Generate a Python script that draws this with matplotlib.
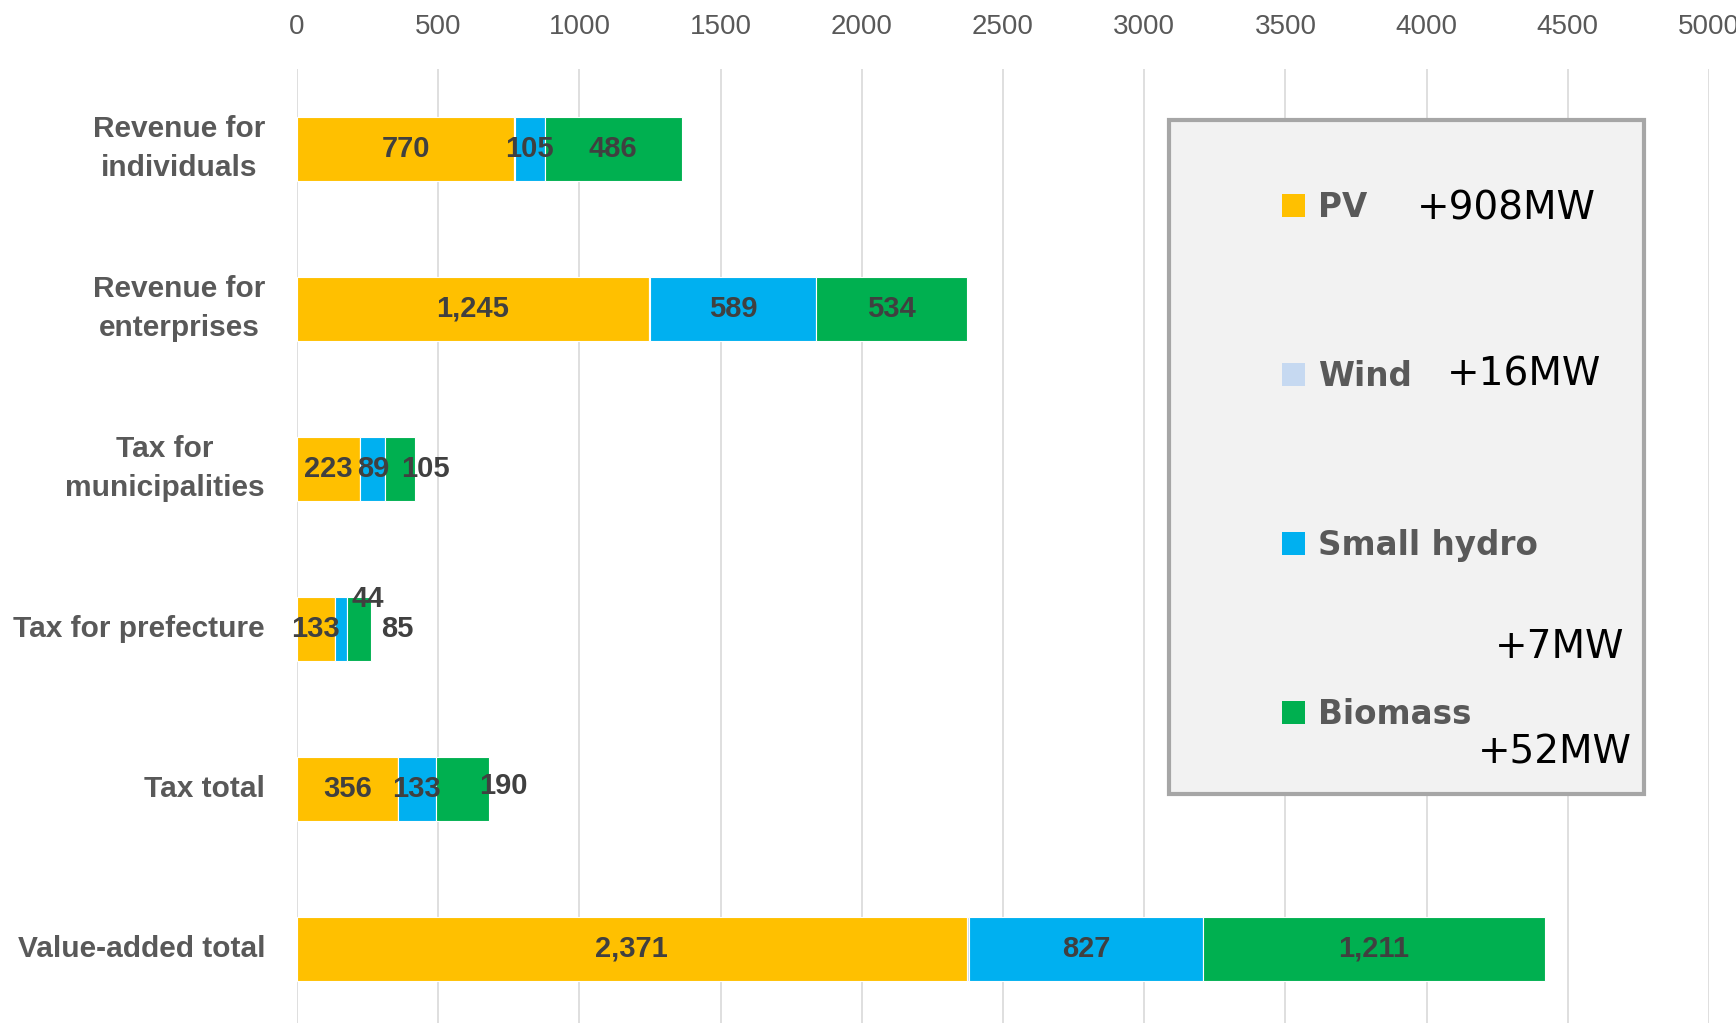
"""
plot.py

Value added by renewable energy, stacked by source.
"""

import matplotlib
matplotlib.use("Agg")
import matplotlib.pyplot as plt
from matplotlib.patches import Patch, Rectangle

categories = [
    "Revenue for\nindividuals",
    "Revenue for\nenterprises",
    "Tax for\nmunicipalities",
    "Tax for prefecture",
    "Tax total",
    "Value-added total",
]
pv = [770, 1245, 223, 133, 356, 2371]
wind = [2, 5, 1, 1, 2, 9]
hydro = [105, 589, 89, 44, 133, 827]
biomass = [486, 534, 105, 85, 190, 1211]

series_names = ["PV", "Wind", "Small hydro", "Biomass"]
series_colors = ["#FFC000", "#C6D9F1", "#00B0F0", "#00B050"]
capacity_notes = ["+908MW", "+16MW", "+7MW", "+52MW"]
xticks = list(range(0, 5001, 500))

# Excel moved a few crowded labels; nudges in pixels (dx, dy)
label_nudge = {
    (2, "Biomass"): (25, 0),
    (3, "Small hydro"): (27, 30),
    (3, "Biomass"): (38, 0),
    (4, "Biomass"): (41, 3),
}

W, H = 1736, 1023
fig = plt.figure(figsize=(W / 100, H / 100), dpi=100)
ax = fig.add_axes([297 / W, 1 - 1029 / H, (1709 - 297) / W, (1029 - 69) / H])

ypos = list(range(len(categories)))
left = [0] * len(categories)
for name, color, vals in zip(series_names, series_colors, [pv, wind, hydro, biomass]):
    ax.barh(ypos, vals, left=left, height=0.4, color=color,
            edgecolor="white", linewidth=0.8, zorder=3)
    if name != "Wind":
        for i, v in enumerate(vals):
            dx, dy = label_nudge.get((i, name), (0, 0))
            ax.annotate(f"{v:,}", (left[i] + v / 2, i), xytext=(dx, dy),
                        textcoords="offset pixels", ha="center", va="center",
                        fontsize=21, fontweight="bold", color="#404040",
                        family="Liberation Sans", zorder=4)
    left = [a + b for a, b in zip(left, vals)]

ax.set_xlim(0, 5000)
ax.set_ylim(len(categories) - 0.5, -0.5)
ax.xaxis.tick_top()
ax.set_xticks(xticks)
ax.set_xticklabels([str(t) for t in xticks], fontsize=20, color="#595959",
                   family="Liberation Sans")
ax.set_yticks(ypos)
ax.set_yticklabels(categories, fontsize=21.5, fontweight="bold", color="#595959",
                   family="Liberation Sans", multialignment="center",
                   linespacing=1.5, va="center")
ax.tick_params(axis="x", length=0, pad=21)
ax.tick_params(axis="y", length=0, pad=23)
ax.grid(axis="x", color="#D9D9D9", linewidth=1.2, zorder=0)
for s in ax.spines.values():
    s.set_visible(False)

# legend box
fig.patches.append(Rectangle((1169 / W, 1 - 794 / H), 475 / W, 674 / H,
                             transform=fig.transFigure, facecolor="#F2F2F2",
                             edgecolor="#A6A6A6", linewidth=3, zorder=5))
handles = [Patch(facecolor=c, edgecolor="none") for c in series_colors]
leg = fig.legend(handles, series_names, loc="upper left",
                 bbox_to_anchor=(1282 / W, 1 - 191 / H), frameon=False,
                 borderpad=0, borderaxespad=0, labelspacing=4.17,
                 handlelength=0.7, handleheight=0.7, handletextpad=0.4,
                 prop={"family": "DejaVu Sans", "weight": "bold", "size": 23.5})
leg.set_zorder(6)
for t in leg.get_texts():
    t.set_color("#595959")

note_pos = [(1417, 208), (1447, 375), (1495, 647), (1478, 753)]
for txt, (x, y) in zip(capacity_notes, note_pos):
    fig.text(x / W, 1 - y / H, txt, fontsize=28, color="black",
             family="DejaVu Sans", ha="left", va="center", zorder=7)

fig.savefig("out.png", dpi=100)
